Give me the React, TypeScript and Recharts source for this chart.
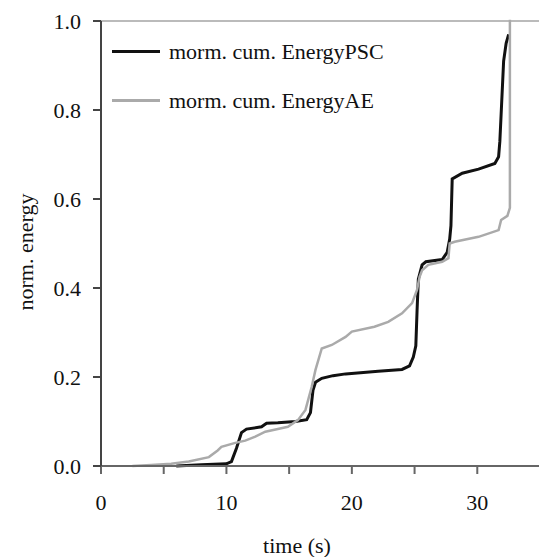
import { LineChart, Line, XAxis, YAxis, ReferenceLine, Label } from 'recharts';

const pscTime = [6.0, 8.0, 10.0, 10.4, 10.8, 11.2, 11.6, 12.8, 13.2, 14.1, 15.5, 16.4, 16.7, 16.9, 17.1, 17.6, 18.5, 19.5, 22.1, 24.0, 24.6, 24.9, 25.1, 25.2, 25.3, 25.6, 25.9, 27.2, 27.6, 27.8, 27.9, 28.0, 28.8, 30.1, 31.4, 31.7, 31.8, 31.9, 32.1, 32.3, 32.5];
const pscValue = [0.0, 0.003, 0.005, 0.01, 0.04, 0.075, 0.083, 0.088, 0.096, 0.097, 0.1, 0.104, 0.12, 0.17, 0.188, 0.197, 0.203, 0.207, 0.213, 0.217, 0.225, 0.245, 0.27, 0.35, 0.42, 0.452, 0.459, 0.464, 0.48, 0.51, 0.54, 0.645, 0.658, 0.667, 0.68, 0.695, 0.73, 0.79, 0.91, 0.95, 0.97];

const aeTime = [2.5, 4.0, 5.6, 7.0, 8.6, 9.3, 9.6, 10.7, 11.5, 12.3, 13.1, 14.1, 14.9, 15.7, 16.3, 16.8, 17.1, 17.6, 18.4, 19.5, 20.0, 21.8, 22.9, 24.0, 24.8, 25.2, 25.4, 25.6, 26.1, 27.2, 27.7, 27.8, 28.2, 30.1, 31.7, 31.9, 32.4, 32.6, 32.6, 32.7];
const aeValue = [0.0, 0.002, 0.005, 0.01, 0.02, 0.035, 0.043, 0.052, 0.057, 0.066, 0.077, 0.083, 0.088, 0.103, 0.126, 0.178, 0.216, 0.264, 0.272, 0.29, 0.302, 0.313, 0.324, 0.343, 0.366, 0.396, 0.425, 0.44, 0.452, 0.459, 0.467, 0.5, 0.504, 0.515, 0.53, 0.553, 0.562, 0.58, 1.0, 1.0];

const seriesNames = ['morm. cum. EnergyPSC', 'morm. cum. EnergyAE'];
const seriesColors = ['#111', '#aaa'];
const seriesWidths = [3, 2.5];

const xTicks = [0, 5, 10, 15, 20, 25, 30, 35];
const yTicks = [0, 0.2, 0.4, 0.6, 0.8, 1.0];

const pscData = pscTime.map((t, i) => ({ t, v: pscValue[i] }));
const aeData = aeTime.map((t, i) => ({ t, v: aeValue[i] }));

const serif = '"Liberation Serif", "Times New Roman", serif';

export default function App() {
  return (
    <div style={{ position: 'fixed', left: 0, top: 0, width: 539, height: 557, overflow: 'hidden', background: '#fff' }}>
      <LineChart width={560} height={557} margin={{ top: 21, right: 20, left: 0, bottom: 0 }}>
        <XAxis
          type="number"
          dataKey="t"
          domain={[0, 35]}
          ticks={xTicks}
          allowDataOverflow
          height={91}
          tickSize={8}
          tickMargin={20}
          tickFormatter={(v: number) => (v % 10 === 0 ? String(v) : '')}
          stroke="#666"
          strokeWidth={2}
          tick={{ fontFamily: serif, fontSize: 22, fill: '#111' }}
        >
          <Label
            content={() => (
              <text x={297} y={553} textAnchor="middle" fontFamily={serif} fontSize={22} fill="#111">
                time (s)
              </text>
            )}
          />
        </XAxis>
        <YAxis
          type="number"
          domain={[0, 1]}
          ticks={yTicks}
          width={101}
          tickSize={8}
          tickMargin={12}
          tickFormatter={(v: number) => v.toFixed(1)}
          stroke="#444"
          strokeWidth={2}
          tick={{ fontFamily: serif, fontSize: 22, fill: '#111' }}
        >
          <Label
            content={() => (
              <text
                x={25}
                y={260}
                textAnchor="middle"
                transform="rotate(-90 25 252)"
                fontFamily={serif}
                fontSize={22}
                fill="#111"
              >
                norm. energy
              </text>
            )}
          />
        </YAxis>
        <ReferenceLine y={1} stroke="#bbb" strokeWidth={2} />
        <Line
          data={pscData}
          dataKey="v"
          name={seriesNames[0]}
          type="linear"
          stroke={seriesColors[0]}
          strokeWidth={seriesWidths[0]}
          dot={false}
          isAnimationActive={false}
        />
        <Line
          data={aeData}
          dataKey="v"
          name={seriesNames[1]}
          type="linear"
          stroke={seriesColors[1]}
          strokeWidth={seriesWidths[1]}
          dot={false}
          isAnimationActive={false}
        />
      </LineChart>
      <div style={{ position: 'absolute', left: 112, top: 27, fontFamily: serif, fontSize: 22, color: '#111' }}>
        {seriesNames.map((name, i) => (
          <div key={name} style={{ display: 'flex', alignItems: 'center', height: 49 }}>
            <span
              style={{
                display: 'inline-block',
                width: 48,
                height: seriesWidths[i],
                background: seriesColors[i],
                marginRight: 9,
              }}
            />
            <span>{name}</span>
          </div>
        ))}
      </div>
    </div>
  );
}
